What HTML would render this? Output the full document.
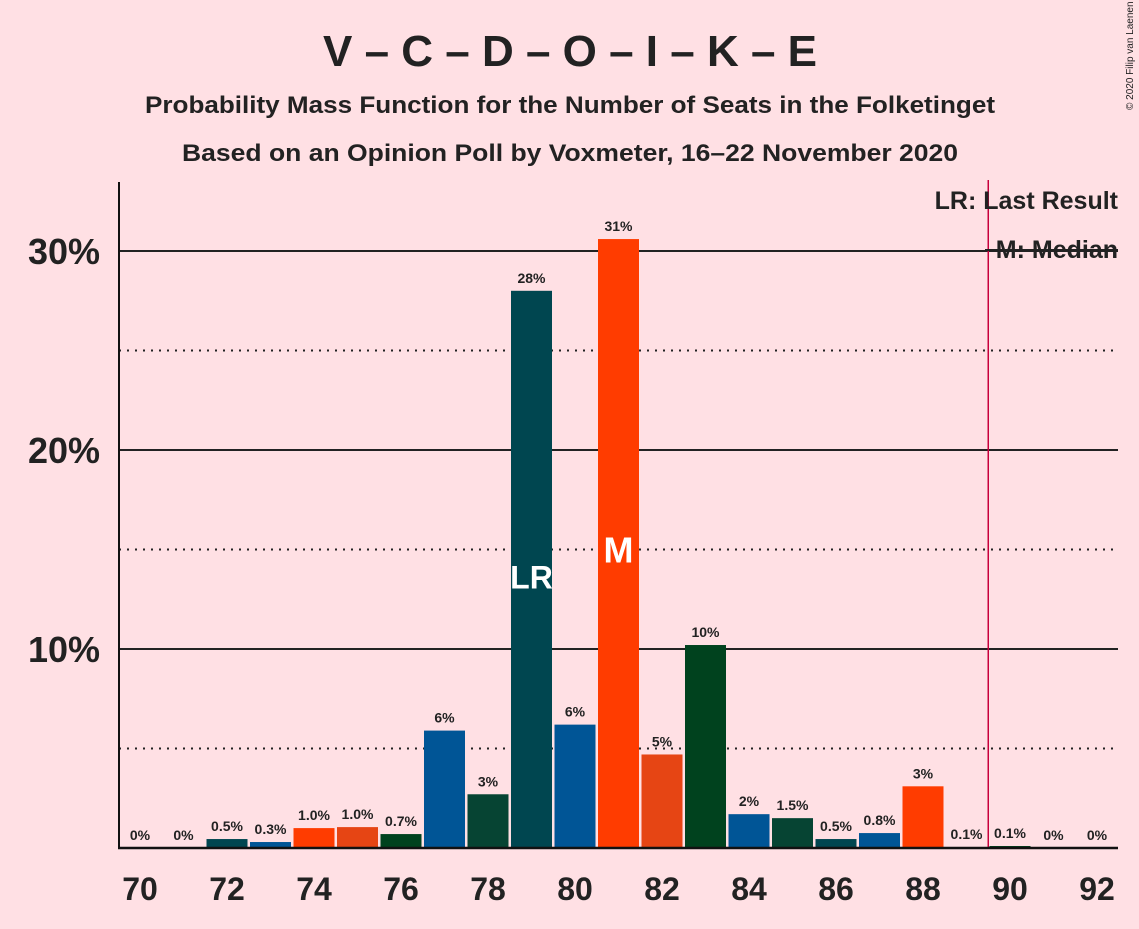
<!DOCTYPE html>
<html><head><meta charset="utf-8"><style>
body{margin:0;background:#ffe0e4;font-family:"Liberation Sans",sans-serif}
svg text{font-family:"Liberation Sans",sans-serif;fill:#222}
</style></head><body>
<svg width="1139" height="924">
<rect width="1139" height="924" fill="#ffe0e4"/>
<text x="570" y="66" text-anchor="middle" font-size="44" font-weight="bold">V – C – D – O – I – K – E</text>
<text x="570" y="113" text-anchor="middle" font-size="24" font-weight="bold" textLength="850" lengthAdjust="spacingAndGlyphs">Probability Mass Function for the Number of Seats in the Folketinget</text>
<text x="570" y="161" text-anchor="middle" font-size="24" font-weight="bold" textLength="776" lengthAdjust="spacingAndGlyphs">Based on an Opinion Poll by Voxmeter, 16–22 November 2020</text>
<text x="1133" y="110" font-size="10" transform="rotate(-90 1133 110)">© 2020 Filip van Laenen</text>
<g id="grid"></g><g id="bars"></g><g id="axes"></g>
<text x="1118" y="209" text-anchor="end" font-size="25" font-weight="bold">LR: Last Result</text>
<text x="1118" y="258" text-anchor="end" font-size="25" font-weight="bold">M: Median</text>
<line x1="985" y1="250" x2="1118" y2="250" stroke="#222" stroke-width="2"/>
</svg>
<script>
const seats=[70,71,72,73,74,75,76,77,78,79,80,81,82,83,84,85,86,87,88,89,90,91,92];
const values=[0,0,0.45,0.3,1.0,1.05,0.7,5.9,2.7,28.0,6.2,30.6,4.7,10.2,1.7,1.5,0.45,0.75,3.1,0.05,0.1,0,0];
const labels=["0%","0%","0.5%","0.3%","1.0%","1.0%","0.7%","6%","3%","28%","6%","31%","5%","10%","2%","1.5%","0.5%","0.8%","3%","0.1%","0.1%","0%","0%"];
const colors=["#004650","#005596","#ff3c00","#e64514","#00421e","#005596","#064433"];
const colorIdx=[0,0,0,1,2,3,4,5,6,0,5,2,3,4,1,6,0,1,2,3,4,0,0];
const yTicks=[10,20,30];
const lastResult=79, median=81;
const ns="http://www.w3.org/2000/svg";
const x=s=>140+43.5*(s-70), y=v=>848-19.9*v;
function mk(t,a,p){const e=document.createElementNS(ns,t);for(const k in a)e.setAttribute(k,a[k]);p.appendChild(e);return e;}
const g=document.getElementById('grid'),b=document.getElementById('bars'),ax=document.getElementById('axes');
[5,15,25].forEach(v=>{const l=mk('line',{x1:119,x2:1118,y1:y(v),y2:y(v),stroke:'#222','stroke-width':2,'stroke-dasharray':'2,6'},g);

});
yTicks.forEach(v=>{const l=mk('line',{x1:119,x2:1118,y1:y(v),y2:y(v),stroke:'#222','stroke-width':2},g);


const t=mk('text',{x:100,y:y(v)+13,'text-anchor':'end','font-size':36,'font-weight':'bold'},ax);t.textContent=v+'%';

});
seats.forEach((s,i)=>{const v=values[i];
if(v>0){const r=mk('rect',{x:x(s)-20.5,y:y(v),width:41,height:848-y(v),fill:colors[colorIdx[i]],stroke:'#ffe0e4','stroke-width':0},b);

}
const t=mk('text',{x:x(s),y:y(v)-8,'text-anchor':'middle','font-size':14,'font-weight':'bold'},b);t.textContent=labels[i];


if(s%2===0){const tl=mk('text',{x:x(s),y:900,'text-anchor':'middle','font-size':32,'font-weight':'bold'},ax);tl.textContent=s;

}
if(s===lastResult||s===median){const m=mk('text',{x:x(s),y:s===median?y(15)+13:y(13.7)+13,'text-anchor':'middle','font-size':s===median?36:32,'font-weight':'bold',fill:'#fff'},b);m.textContent=s===median?'M':'LR';m.style.fill='#fff';

}
});
const vl=mk('line',{x1:x(89.5),x2:x(89.5),y1:180,y2:848,stroke:'#c8003c','stroke-width':1.5},ax);


const ya=mk('line',{x1:119,x2:119,y1:182,y2:849,stroke:'#111','stroke-width':2},ax);


const xa=mk('line',{x1:118,x2:1118,y1:848,y2:848,stroke:'#111','stroke-width':2.5},ax);


</script>
</body></html>
